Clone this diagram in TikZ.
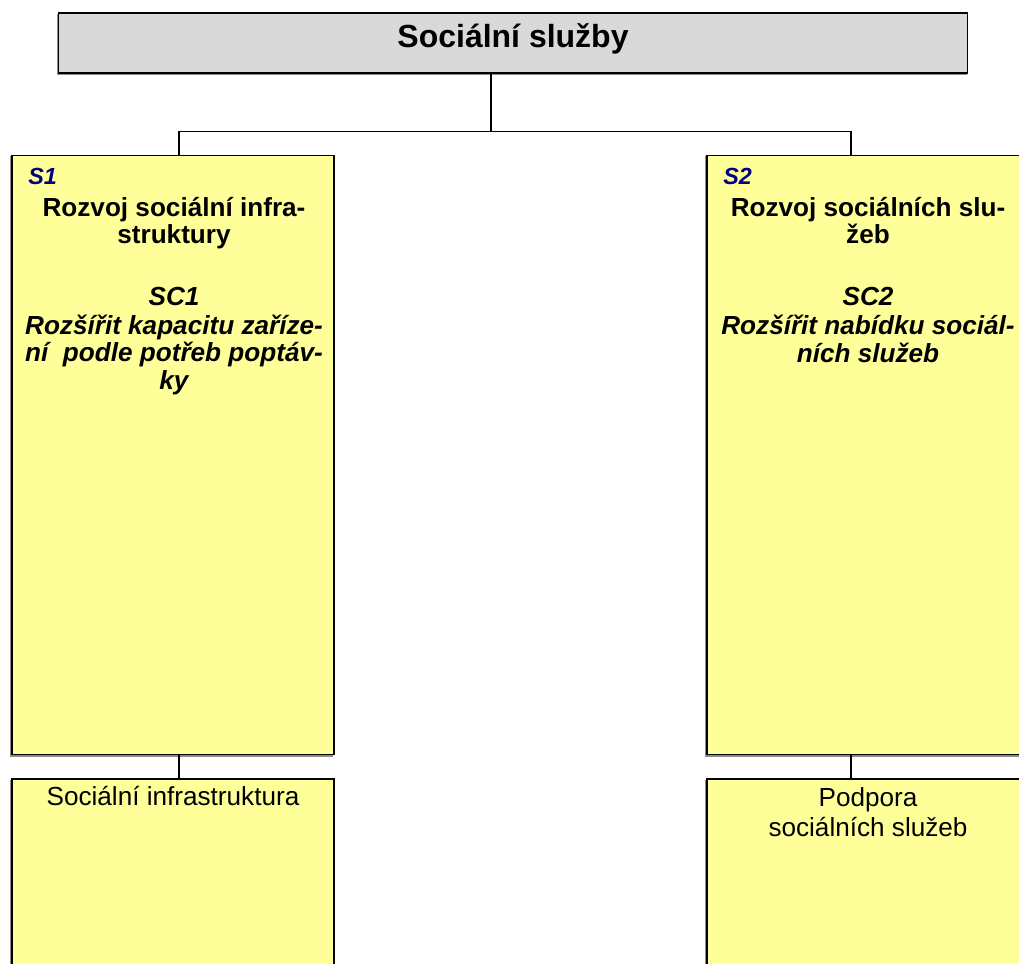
\documentclass[tikz,border=0pt]{standalone}
\usepackage{fontspec}
\setmainfont{Liberation Sans}
\definecolor{boxyellow}{HTML}{FFFF99}
\definecolor{boxgray}{HTML}{D9D9D9}
\definecolor{labelnavy}{HTML}{000080}
\begin{document}
\begin{tikzpicture}[x=0.75pt,y=-0.75pt,
  box/.style={draw=black, line width=1.2pt, rectangle, inner sep=0pt,
    preaction={draw=black!45, line width=0.8pt, transform canvas={shift={(-1.1pt,-1.1pt)}}}},
  topbox/.style={box, fill=boxgray, minimum width=681.75pt, minimum height=45pt},
  goalbox/.style={box, fill=boxyellow, minimum width=241.5pt, minimum height=449.25pt},
  measbox/.style={box, fill=boxyellow, minimum width=241.5pt, minimum height=158.25pt},
  conn/.style={draw=black, line width=0.9pt},
  txt/.style={anchor=base, inner sep=0pt},
  boldtxt/.style={txt, font=\bfseries\fontsize{19.6}{23}\selectfont},
  itbtxt/.style={txt, font=\bfseries\itshape\fontsize{19.6}{23}\selectfont},
  plaintxt/.style={txt, font=\fontsize{19.6}{23}\selectfont},
  lbl/.style={anchor=base west, inner sep=0pt, text=labelnavy, font=\bfseries\itshape\fontsize{17.5}{20}\selectfont}
]
\clip (0,0) rectangle (1019,963);
\fill[white] (0,0) rectangle (1019,963);

% boxes
\node[topbox] (top) at (513,43) {};
\node[goalbox] (s1) at (173,455) {};
\node[goalbox] (s2) at (868,455) {};
\node[measbox] (b1) at (173,884.5) {};
\node[measbox] (b2) at (868,884.5) {};

% connector junctions
\coordinate (hm) at (491,131.5);
\coordinate (hl) at (179,131.5);
\coordinate (hr) at (851,131.5);

\draw[conn] (top.south -| hm) -- (hm);
\draw[conn] (hl) -- (hr);
\draw[conn] (hl) -- (hl |- s1.north);
\draw[conn] (hr) -- (hr |- s2.north);
\draw[conn] (s1.south -| hl) -- (hl |- b1.north);
\draw[conn] (s2.south -| hr) -- (hr |- b2.north);

% title
\node[txt, font=\bfseries\fontsize{24}{28}\selectfont] (title) at (513,47.5) {Sociální služby};

% S1 texts
\node[lbl] (s1lbl) at (28,184) {S1};
\node[boldtxt] (s1a) at (174,216.7) {Rozvoj sociální infra-};
\node[boldtxt] (s1b) at (174,243.3) {struktury};
\node[itbtxt] (s1c) at (174,305.5) {SC1};
\node[itbtxt] (s1d) at (174,334.3) {Rozšířit kapacitu zaříze-};
\node[itbtxt] (s1e) at (174,361.7) {ní\ \ podle potřeb poptáv-};
\node[itbtxt] (s1f) at (174,389) {ky};

% S2 texts
\node[lbl] (s2lbl) at (723,184) {S2};
\node[boldtxt] (s2a) at (868,216.7) {Rozvoj sociálních slu-};
\node[boldtxt] (s2b) at (868,243.3) {žeb};
\node[itbtxt] (s2c) at (868,305.5) {SC2};
\node[itbtxt] (s2d) at (868,334.3) {Rozšířit nabídku sociál-};
\node[itbtxt] (s2e) at (868,362) {ních služeb};

% bottom texts
\node[plaintxt] (b1a) at (173,805) {Sociální infrastruktura};
\node[plaintxt] (b2a) at (868,806) {Podpora};
\node[plaintxt] (b2b) at (868,836.5) {sociálních služeb};
\end{tikzpicture}
\end{document}
